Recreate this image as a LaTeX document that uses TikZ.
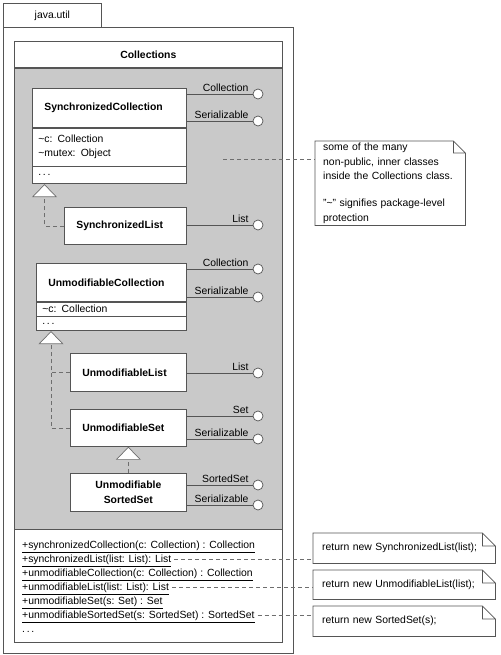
\documentclass[tikz,border=0pt]{standalone}
\usepackage{fontspec}
\setmainfont{Liberation Sans}
\usepackage{tikz}
\usetikzlibrary{positioning,arrows.meta}

\definecolor{umlline}{RGB}{85,85,85}
\definecolor{umlgray}{RGB}{201,201,201}

\begin{document}
\begin{tikzpicture}[x=1pt, y=1pt,
    font=\fontsize{10.4}{14.5}\selectfont,
    box/.style={rectangle, draw=umlline, fill=white, line width=0.7pt, inner sep=0pt, anchor=north west},
    classname/.style={box, font=\fontsize{10.4}{15}\selectfont\bfseries, align=left, inner xsep=12pt},
    compart/.style={box, align=left, inner xsep=6pt},
    iface/.style={circle, draw=umlline, fill=white, line width=0.7pt, minimum size=10pt, inner sep=0pt},
    iflabel/.style={inner sep=0pt},
    method/.style={anchor=north west, inner xsep=3pt, inner ysep=0pt, minimum height=13.6pt, text height=8pt, text depth=3pt},
    note/.style={anchor=north west, align=left, inner ysep=2pt, inner xsep=8pt},
    link/.style={draw=umlline, line width=0.7pt},
    dashline/.style={draw=umlline!85, line width=0.7pt, dash pattern=on 4pt off 3pt},
    realize/.style={dashline, -{Triangle[fill=white, length=13pt, width=25pt]}}
]
\useasboundingbox (0,0) rectangle (500,-655);

% package java.util
\node[box, minimum width=98pt, minimum height=24pt, align=center] (pkgtab) at (3,-3) {java.util};
\node[box, minimum width=290pt, minimum height=626pt] (pkg) at (3,-27) {};

% class Collections
\node[box, minimum width=268pt, minimum height=26pt, align=center, font=\fontsize{10.4}{12}\selectfont\bfseries] (coll) at (14,-41) {Collections};
\node[box, fill=umlgray, minimum width=268pt, minimum height=461pt] (inner) at (coll.south west) {};
\node[box, minimum width=268pt, minimum height=113pt] (ops) at (inner.south west) {};

% inner classes
\node[classname, text width=130pt, minimum height=39pt] (SCname) at (32,-88) {SynchronizedCollection};
\node[compart, text width=142pt, minimum height=38pt] (SCattr) at (SCname.south west) {\textasciitilde c: Collection\\\textasciitilde mutex: Object};
\node[compart, text width=142pt, minimum height=17pt] (SCops) at (SCattr.south west) {.\,.\,.};
\node[classname, text width=98pt, minimum height=37pt] (SLname) at (64,-207) {SynchronizedList};

\node[classname, text width=126pt, minimum height=38pt] (UCname) at (36,-263) {UnmodifiableCollection};
\node[compart, text width=138pt, minimum height=14pt] (UCattr) at (UCname.south west) {\textasciitilde c: Collection};
\node[compart, text width=138pt, minimum height=14pt] (UCops) at (UCattr.south west) {.\,.\,.};
\node[classname, text width=92pt, minimum height=38pt] (ULname) at (70,-353) {UnmodifiableList};
\node[classname, text width=92pt, minimum height=37pt] (USname) at (70,-409) {UnmodifiableSet};
\node[classname, text width=92pt, minimum height=38pt, align=center] (USSname) at (70,-473) {Unmodifiable\\SortedSet};

% interfaces
\foreach \nm/\y/\lbl/\cls in {SCcoll/94/Collection/SCname, SCser/121/Serializable/SCname,
    SLlist/225/List/SLname, UCcoll/269/Collection/UCname, UCser/297/Serializable/UCname,
    ULlist/373/List/ULname, USset/416/Set/USname, USser/439/Serializable/USname,
    USSsorted/485/SortedSet/USSname, USSser/505/Serializable/USSname} {
  \node[iface] (\nm) at (258,-\y) {};
  \node[iflabel, above left=2pt and 4pt of \nm.west] (\nm-text) {\lbl};
  \draw[link] (\nm.west) -- (\nm.west -| \cls.east);
}

% generalizations
\coordinate (SCtip) at ([xshift=12.5pt]SCops.south west);
\coordinate (UCtip) at ([xshift=15pt]UCops.south west);
\draw[realize] (SLname.west) -| (SCtip);
\draw[realize] (ULname.west) -| (UCtip);
\draw[dashline] (USname.west) -| (UCtip |- ULname.west);
\draw[realize] (USSname.north) -- (USname.south);

% operations of Collections
\node[method] (msyncoll) at (19,-538.7) {\underline{+synchronizedCollection(c: Collection) : Collection}};
\node[method] (msynlist) at (msyncoll.south west) {\underline{+synchronizedList(list: List): List}};
\node[method] (munmodcoll) at (msynlist.south west) {\underline{+unmodifiableCollection(c: Collection) : Collection}};
\node[method] (munmodlist) at (munmodcoll.south west) {\underline{+unmodifiableList(list: List): List}};
\node[method] (munmodset) at (munmodlist.south west) {\underline{+unmodifiableSet(s: Set) : Set}};
\node[method] (msorted) at (munmodset.south west) {\underline{+unmodifiableSortedSet(s: SortedSet) : SortedSet}};
\node[method] (mmore) at (msorted.south west) {.\,.\,.};

% notes
\node[note, text width=134pt] (remark) at (315,-141) {some of the many\\non-public, inner classes\\inside the Collections class.\\[12.5pt]"\textasciitilde" signifies package-level\\protection};
\node[note, text width=164pt, inner xsep=9pt, minimum height=30pt] (nsynlist) at (313,-533) {return new SynchronizedList(list);};
\node[note, text width=164pt, inner xsep=9pt, minimum height=29pt] (nunmodlist) at (313,-570) {return new UnmodifiableList(list);};
\node[note, text width=164pt, inner xsep=9pt, minimum height=30pt] (nsorted) at (313,-606) {return new SortedSet(s);};
\foreach \n/\f in {remark/12pt, nsynlist/13pt, nunmodlist/13pt, nsorted/13pt}
  \draw[link] (\n.south west) -- (\n.north west) -- ([xshift=-\f]\n.north east) -- ([yshift=-\f]\n.north east) -- (\n.south east) -- cycle
    ([xshift=-\f]\n.north east) |- ([yshift=-\f]\n.north east);

% note anchors
\coordinate (remarkfrom) at (223,-159);
\draw[dashline] (remarkfrom) -- (remarkfrom -| remark.west);
\draw[dashline] (msynlist.east) -- (msynlist.east -| nsynlist.west);
\draw[dashline] (munmodlist.east) -- (munmodlist.east -| nunmodlist.west);
\draw[dashline] (msorted.east) -- (msorted.east -| nsorted.west);
\end{tikzpicture}
\end{document}
